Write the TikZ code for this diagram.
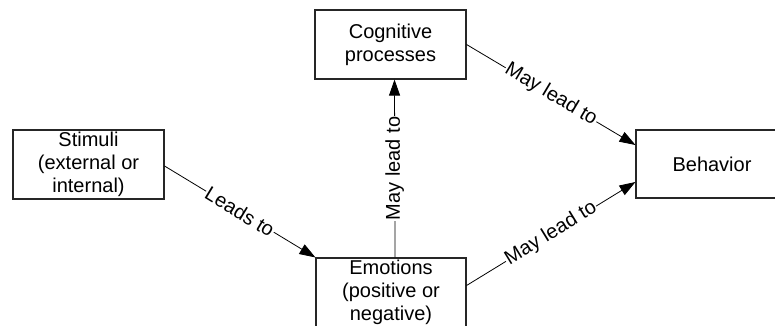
\documentclass[tikz,border=0pt]{standalone}
\usepackage{fontspec}
\setmainfont{Liberation Sans}
\usetikzlibrary{arrows.meta}
\begin{document}
\begin{tikzpicture}[x=1pt,y=-1pt,
  box/.style={draw=black!85,line width=1.1pt,align=center,inner sep=0pt,
    font=\fontsize{20}{23}\selectfont},
  conn/.style={draw=black,line width=0.8pt,-{Triangle[length=16pt,width=11pt]}},
  lbl/.style={fill=white,inner sep=1pt,midway,font=\fontsize{20}{22}\selectfont}]
\useasboundingbox (0,0) rectangle (775,325);
\clip (0,0) rectangle (775,325);
\fill[white] (0,0) rectangle (775,325);
\node[box,minimum width=151pt,minimum height=69pt] (stim) at (88.5,164.5) {Stimuli\\(external or\\internal)};
\node[box,minimum width=151pt,minimum height=69pt] (cog) at (390.5,44.5) {Cognitive\\processes};
\node[box,minimum width=152pt,minimum height=68pt] (beh) at (712,164) {Behavior};
\node[box,minimum width=150pt,minimum height=69pt] (emo) at (391,292.5) {Emotions\\(positive or\\negative)};
\draw[conn] ([yshift=-1.5pt]stim.east) -- (emo.north west) node[lbl,sloped] {Leads to};
\draw[conn] ([xshift=4pt]emo.north) -- ([xshift=4pt]cog.south) node[lbl,rotate=90] {May lead to};
\draw[conn] (cog.east) -- ([yshift=19pt]beh.west) node[lbl,sloped] {May lead to};
\draw[conn] ([yshift=7pt]emo.east) -- ([yshift=-18pt]beh.west) node[lbl,sloped] {May lead to};
\end{tikzpicture}
\end{document}
